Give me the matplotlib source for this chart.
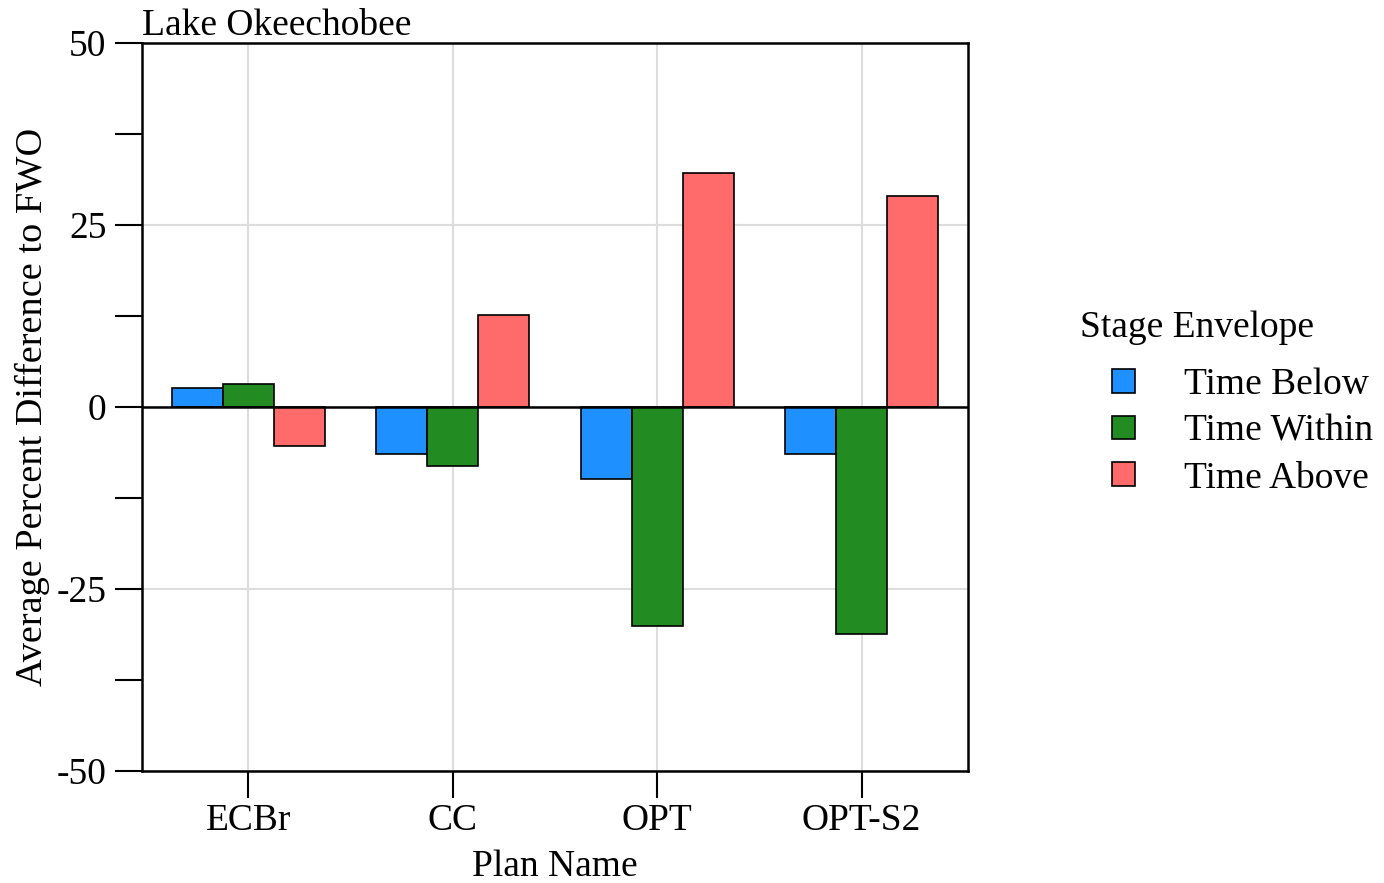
import matplotlib.pyplot as plt
import numpy as np

plans = ['ECBr', 'CC', 'OPT', 'OPT-S2']
time_below = [2.6, -6.4, -9.9, -6.4]
time_within = [3.2, -8.1, -30.1, -31.2]
time_above = [-5.3, 12.7, 32.1, 29.0]
series_names = ['Time Below', 'Time Within', 'Time Above']
colors = ['#1E90FF', '#228B22', '#FF6A6A']

plt.rcParams['font.family'] = ['Liberation Serif', 'DejaVu Serif']
plt.rcParams['axes.unicode_minus'] = False

fig = plt.figure(figsize=(13.84, 8.83), dpi=100)
ax = fig.add_axes([142 / 1384, 1 - 771 / 883, 826 / 1384, 728 / 883])

x = np.arange(len(plans))
width = 0.25
for i, (vals, name) in enumerate(zip([time_below, time_within, time_above], series_names)):
    ax.bar(x + (i - 1) * width, vals, width, color=colors[i], edgecolor='black',
           linewidth=1.2, label=name, zorder=3)

ax.axhline(0, color='black', linewidth=1.8, zorder=4)
ax.set_xlim(-0.52, 3.52)
ax.set_ylim(-50, 50)
ax.set_yticks([-50, -25, 0, 25, 50])
ax.set_yticks([-37.5, -12.5, 12.5, 37.5], minor=True)
ax.set_xticks(x)
ax.set_xticklabels(plans)
ax.grid(True, which='major', color='#dddddd', linewidth=1.5, zorder=0)
ax.set_axisbelow(True)
ax.tick_params(axis='both', which='both', direction='out', length=19.5, width=1.5,
               labelsize=27)
ax.tick_params(axis='y', pad=6)
ax.tick_params(axis='x', pad=4)
for s in ax.spines.values():
    s.set_linewidth(1.8)

ax.set_ylabel('Average Percent Difference to FWO', fontsize=27.5)
ax.yaxis.set_label_coords(-0.111, 0.5)
ax.set_xlabel('Plan Name', fontsize=27, labelpad=8)
ax.text(0.0, 1.0, 'Lake Okeechobee', transform=ax.transAxes, fontsize=27,
        ha='left', va='bottom')

# legend title placed on its own, entries indented below it
ax.text((1080 - 142) / 826, (771 - 328) / 728, 'Stage Envelope', transform=ax.transAxes,
        fontsize=27, ha='left', va='center')
leg = ax.legend(loc='center left', bbox_to_anchor=((1112 - 142) / 826, (771 - 431.5) / 728),
                frameon=False, fontsize=27, handlelength=0.6, handleheight=0.6,
                handletextpad=1.33, labelspacing=0.33, borderaxespad=0, borderpad=0)

fig.savefig('out.png', dpi=100)
